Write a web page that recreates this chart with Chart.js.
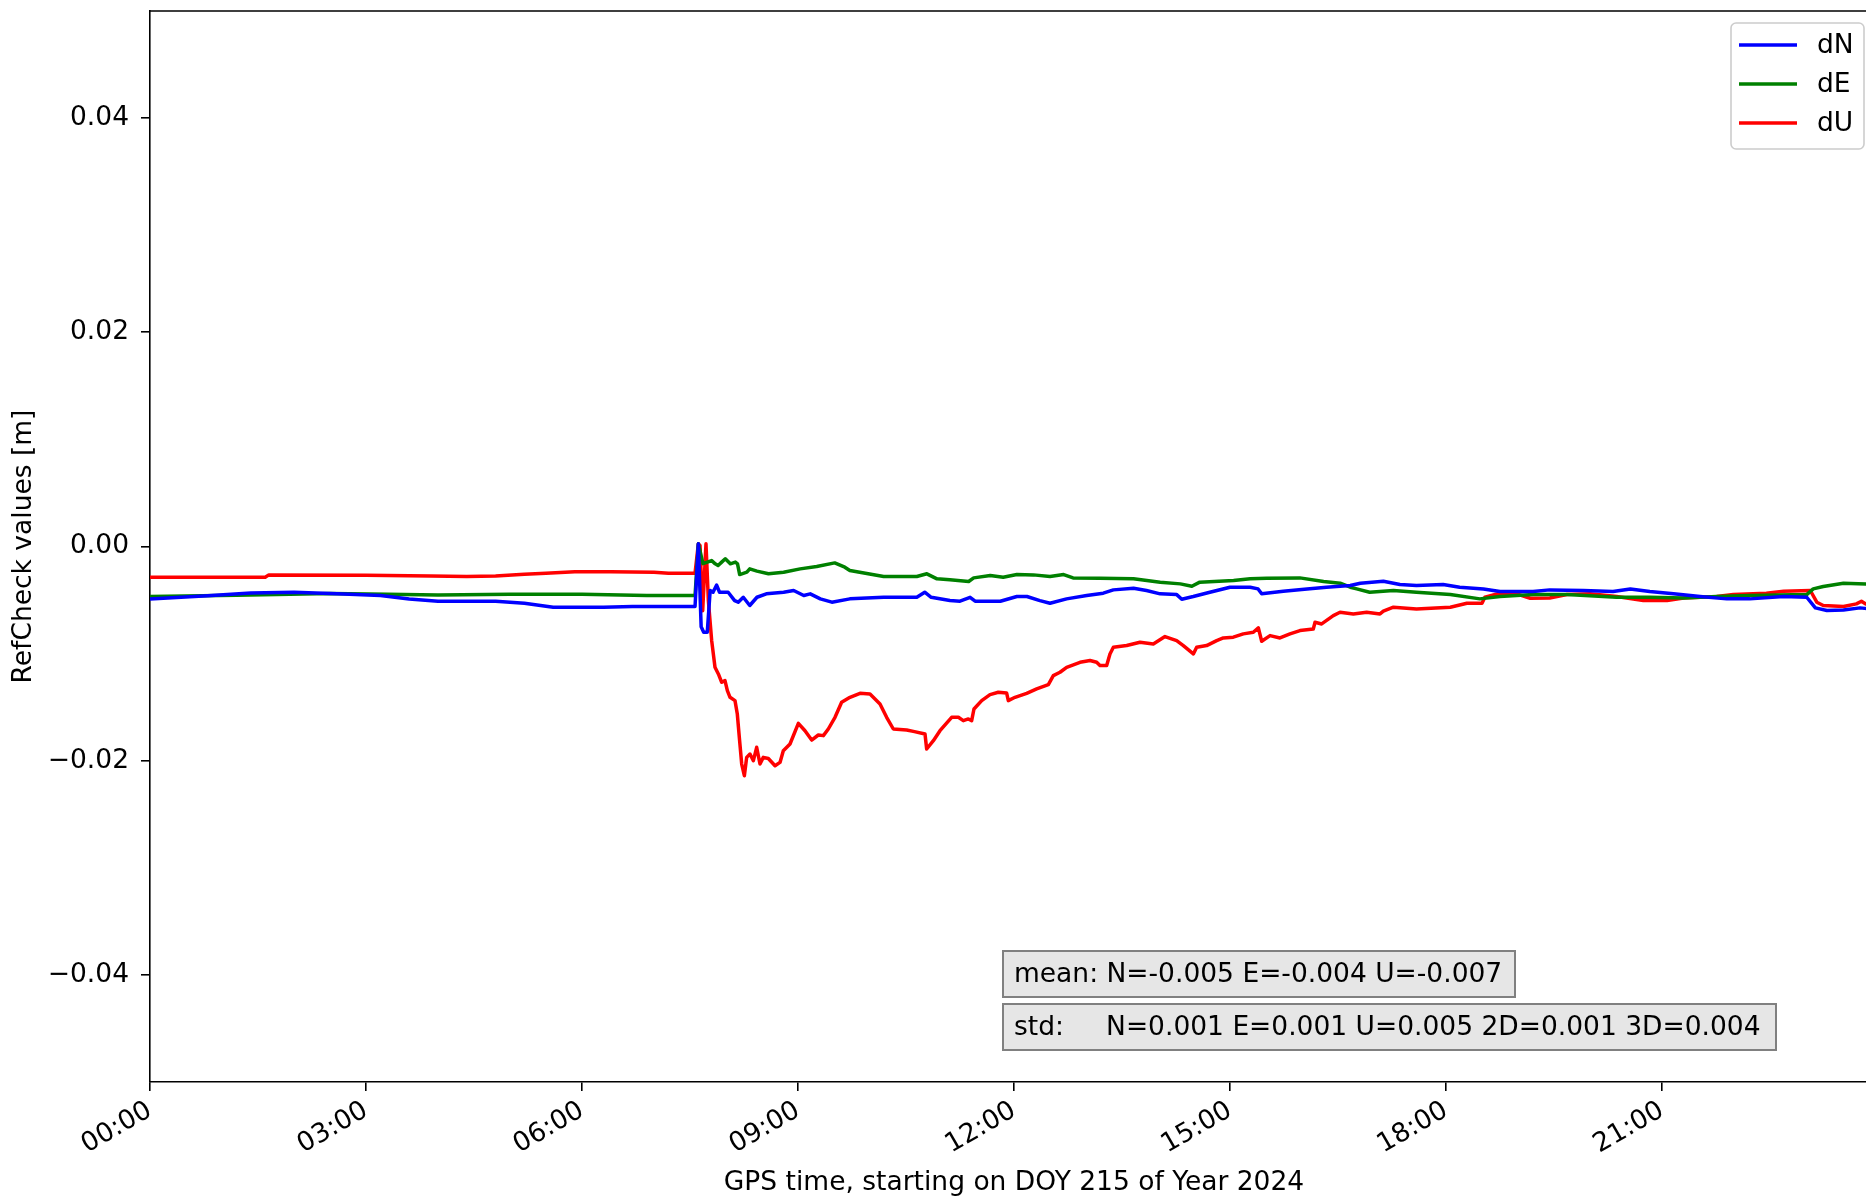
<!DOCTYPE html>
<html>
<head>
<meta charset="utf-8">
<script src="https://cdn.jsdelivr.net/npm/chart.js@4.4.0/dist/chart.umd.min.js"></script>
<style>
  html, body { margin: 0; padding: 0; background: #fff; overflow: hidden; }
  canvas { display: block; }
</style>
</head>
<body>
<canvas id="mycanvas" width="1880" height="1201"></canvas>
<script>
// hours since 00:00 GPS time, values in metres
var dNTimes = [0, 0.8, 1.4, 2.0, 2.6, 3.2, 3.6, 4.0, 4.8, 5.2, 5.6, 6.3, 6.7, 7.57,
  7.616, 7.655, 7.69, 7.74, 7.78, 7.82, 7.87, 7.91, 7.96, 8.03, 8.12, 8.17, 8.24, 8.33, 8.43, 8.56, 8.80, 8.94,
  9.08, 9.17, 9.31, 9.47, 9.72, 10.19, 10.65, 10.76, 10.85, 11.11, 11.25, 11.39, 11.46, 11.81, 12.04,
  12.18, 12.36, 12.5, 12.73, 13.01, 13.24, 13.38, 13.66, 13.84, 14.03, 14.26, 14.33, 14.49, 14.72, 15.0,
  15.28, 15.39, 15.44, 15.74, 16.07, 16.34, 16.67, 16.81, 17.13, 17.36, 17.59, 17.96, 18.19, 18.52, 18.75,
  19.21, 19.44, 19.91, 20.32, 20.56, 20.83, 21.16, 21.53, 21.90, 22.22, 22.69, 23.01, 23.13, 23.29, 23.52,
  23.75, 24.0];
var dNValues = [-0.0049, -0.0046, -0.00435, -0.00427, -0.00442, -0.00458, -0.0049, -0.00511, -0.00511, -0.0053, -0.00567, -0.00567, -0.00561, -0.0056,
  0.00025, -0.0075, -0.0080, -0.0080, -0.00411, -0.00427, -0.0036, -0.00427, -0.00427, -0.00427, -0.00505, -0.0052, -0.00474, -0.00551, -0.00474, -0.00442, -0.00427, -0.00411,
  -0.00458, -0.00442, -0.00489, -0.0052, -0.00489, -0.00474, -0.00474, -0.00427, -0.00474, -0.00505, -0.00511, -0.00474, -0.00511, -0.00511, -0.00467,
  -0.00467, -0.00505, -0.0053, -0.00489, -0.00458, -0.00436, -0.00405, -0.0039, -0.00411, -0.00442, -0.00449, -0.00492, -0.00467, -0.00427, -0.0038,
  -0.0038, -0.00396, -0.00442, -0.00418, -0.00396, -0.0038, -0.00364, -0.00343, -0.00324, -0.00355, -0.00364, -0.00355, -0.0038, -0.00396, -0.00421,
  -0.00421, -0.00405, -0.00411, -0.00421, -0.00396, -0.00421, -0.00442, -0.00467, -0.00489, -0.00489, -0.00467, -0.00474, -0.00573, -0.00598, -0.00592,
  -0.00573, -0.0059];

var dETimes = [0, 1.2, 2.5, 3.3, 4.0, 5.0, 6.0, 6.9, 7.57,
  7.616, 7.68, 7.80, 7.85, 7.89, 7.94, 7.99, 8.06, 8.13, 8.16, 8.19, 8.29, 8.33, 8.43, 8.59, 8.80, 9.03,
  9.26, 9.51, 9.65, 9.72, 10.19, 10.65, 10.79, 10.93, 11.11, 11.37, 11.44, 11.67, 11.85, 12.04, 12.27,
  12.5, 12.69, 12.82, 13.19, 13.66, 14.03, 14.31, 14.47, 14.58, 15.05, 15.28, 15.51, 15.97, 16.30, 16.53,
  16.67, 16.76, 16.94, 17.27, 17.59, 18.06, 18.47, 18.75, 19.21, 19.68, 20.37, 20.83, 21.30, 21.76, 22.22,
  23.01, 23.10, 23.24, 23.52, 23.83, 24.0];
var dEValues = [-0.00467, -0.00455, -0.0044, -0.00445, -0.00452, -0.00447, -0.00447, -0.00458, -0.00458,
  0.00025, -0.0016, -0.00131, -0.00162, -0.00178, -0.00146, -0.00115, -0.00162, -0.00146, -0.00162, -0.00262, -0.0024, -0.00209, -0.0023, -0.00255, -0.0024, -0.00209,
  -0.00187, -0.00153, -0.00193, -0.00224, -0.0028, -0.0028, -0.00255, -0.00302, -0.00311, -0.00327, -0.00293, -0.00271, -0.00287, -0.00262, -0.00265,
  -0.0028, -0.00262, -0.00293, -0.00296, -0.00302, -0.00333, -0.00349, -0.00371, -0.00333, -0.00318, -0.00302, -0.00296, -0.00293, -0.00327, -0.00343,
  -0.0038, -0.00396, -0.00427, -0.00411, -0.00427, -0.00449, -0.00489, -0.00467, -0.00449, -0.00449, -0.00474, -0.00474, -0.0048, -0.00467, -0.00458,
  -0.00449, -0.00396, -0.00374, -0.00343, -0.00349, -0.00349];

var dUTimes = [0, 1.6, 1.65, 3.0, 3.9, 4.4, 4.8, 5.2, 5.5, 5.9, 6.4, 7.0, 7.2, 7.57,
  7.616, 7.639, 7.676, 7.722, 7.755, 7.801, 7.847, 7.894, 7.940, 7.986, 8.019, 8.056, 8.125, 8.157, 8.185,
  8.218, 8.255, 8.287, 8.333, 8.380, 8.426, 8.472, 8.518, 8.588, 8.681, 8.75, 8.796, 8.889, 9.005, 9.097,
  9.190, 9.282, 9.352, 9.421, 9.514, 9.606, 9.722, 9.861, 10.0, 10.139, 10.231, 10.324, 10.509, 10.602,
  10.764, 10.787, 10.880, 10.972, 11.134, 11.227, 11.296, 11.366, 11.412, 11.444, 11.551, 11.667, 11.782,
  11.898, 11.921, 12.014, 12.176, 12.315, 12.477, 12.546, 12.639, 12.731, 12.917, 13.056, 13.148, 13.194,
  13.287, 13.333, 13.380, 13.565, 13.750, 13.935, 14.097, 14.259, 14.352, 14.491, 14.537, 14.676, 14.815,
  14.907, 15.046, 15.185, 15.324, 15.394, 15.440, 15.556, 15.694, 15.833, 15.972, 16.157, 16.181, 16.273,
  16.435, 16.528, 16.713, 16.898, 17.083, 17.13, 17.27, 17.59, 18.06, 18.29, 18.50, 18.54, 18.75, 18.98,
  19.17, 19.44, 19.68, 20.0, 20.37, 20.74, 21.07, 21.30, 21.76, 21.99, 22.45, 22.69, 23.06, 23.15, 23.24,
  23.52, 23.70, 23.77, 23.83, 24.0];
var dUValues = [-0.00287, -0.00287, -0.00265, -0.00268, -0.00275, -0.0028, -0.00275, -0.00258, -0.0025, -0.00236, -0.00236, -0.0024, -0.0025, -0.0025,
  0.00025, 0.0001, -0.0060, 0.00025, -0.00505, -0.00879, -0.01128, -0.0119, -0.01268, -0.01252, -0.01346, -0.01408, -0.01439, -0.01564, -0.01782,
  -0.02031, -0.0214, -0.01969, -0.01938, -0.0200, -0.01875, -0.02031, -0.01969, -0.0198, -0.02047, -0.02016, -0.01907, -0.01844, -0.01651, -0.0172,
  -0.01807, -0.0176, -0.01766, -0.01704, -0.01595, -0.01455, -0.01408, -0.01371, -0.01377, -0.0147, -0.01595, -0.01704, -0.01713, -0.01726,
  -0.01751, -0.01891, -0.01813, -0.0172, -0.01595, -0.01595, -0.01626, -0.0161, -0.01626, -0.01517, -0.01439, -0.01383, -0.01361,
  -0.01368, -0.01439, -0.01408, -0.01371, -0.0133, -0.0129, -0.01206, -0.01174, -0.01128, -0.01081, -0.01065, -0.01081, -0.01112,
  -0.01112, -0.01003, -0.00941, -0.00925, -0.00894, -0.0091, -0.00841, -0.00879, -0.00925, -0.01003, -0.00941, -0.00925, -0.00879,
  -0.00854, -0.00847, -0.00816, -0.00801, -0.0076, -0.00885, -0.00832, -0.00854, -0.00816, -0.00785, -0.0077, -0.00707, -0.00723,
  -0.00645, -0.00614, -0.0063, -0.00614, -0.0063, -0.00604, -0.00567, -0.00583, -0.00567, -0.0053, -0.0053, -0.00474, -0.00436, -0.00442,
  -0.00483, -0.0048, -0.00449, -0.00442, -0.00467, -0.00505, -0.00505, -0.0048, -0.00467, -0.00449, -0.00436, -0.00417, -0.00411, -0.0052, -0.00551,
  -0.00561, -0.00536, -0.00511, -0.00536, -0.0054];

var seriesNames = ['dN', 'dE', 'dU'];
var seriesColors = ['#0000ff', '#008000', '#ff0000'];
var xTickHours = [0, 3, 6, 9, 12, 15, 18, 21];
var yTickValues = [-0.04, -0.02, 0.00, 0.02, 0.04];
var meanValues = ['N=-0.005', 'E=-0.004', 'U=-0.007'];
var stdValues = ['N=0.001', 'E=0.001', 'U=0.005', '2D=0.001', '3D=0.004'];

var FONT = 'DejaVu Sans';
var FSIZE = 26.5;

function pts(t, v) {
  var out = [];
  for (var i = 0; i < t.length; i++) out.push({x: t[i], y: v[i]});
  return out;
}

function hhmm(h) {
  return (h < 10 ? '0' : '') + h + ':00';
}

// frame, legend and the two stats boxes
var extras = {
  id: 'extras',
  afterDraw: function(chart) {
    var c = chart.ctx, a = chart.chartArea;
    c.save();
    c.strokeStyle = '#000';
    c.lineWidth = 1.6;
    c.beginPath();
    c.moveTo(a.left, a.top); c.lineTo(a.right, a.top); c.lineTo(a.right, a.bottom);
    c.stroke();

    // legend
    var lx = a.right - 147, ly = a.top + 12, lw = 133, lh = 126;
    c.fillStyle = 'rgba(255,255,255,0.8)';
    c.strokeStyle = '#cccccc';
    c.lineWidth = 1.6;
    c.beginPath();
    c.roundRect(lx, ly, lw, lh, 5);
    c.fill(); c.stroke();
    c.font = FSIZE + 'px "' + FONT + '"';
    c.textBaseline = 'middle';
    c.textAlign = 'left';
    for (var i = 0; i < seriesNames.length; i++) {
      var yy = ly + 22 + i * 39;
      c.strokeStyle = seriesColors[i];
      c.lineWidth = 3.5;
      c.beginPath(); c.moveTo(lx + 8, yy); c.lineTo(lx + 66, yy); c.stroke();
      c.fillStyle = '#000';
      c.fillText(seriesNames[i], lx + 86, yy + 1);
    }

    // stats boxes
    var boxes = [
      {text: 'mean: ' + meanValues.join(' '), y: 951, w: 512},
      {text: 'std:     ' + stdValues.join(' '), y: 1004, w: 773}
    ];
    boxes.forEach(function(b) {
      c.fillStyle = '#e6e6e6';
      c.strokeStyle = '#808080';
      c.lineWidth = 2;
      c.fillRect(1003, b.y, b.w, 46);
      c.strokeRect(1003, b.y, b.w, 46);
      c.fillStyle = '#000';
      c.fillText(b.text, 1014, b.y + 24);
    });
    c.restore();
  }
};

var ctx = document.getElementById('mycanvas');

var chart = new Chart(ctx, {
  type: 'line',
  data: {
    datasets: [
      {label: seriesNames[0], data: pts(dNTimes, dNValues), borderColor: seriesColors[0]},
      {label: seriesNames[1], data: pts(dETimes, dEValues), borderColor: seriesColors[1]},
      {label: seriesNames[2], data: pts(dUTimes, dUValues), borderColor: seriesColors[2]}
    ]
  },
  options: {
    responsive: false,
    animation: false,
    layout: {padding: {top: 11, left: 0, right: 2, bottom: 0}},
    elements: {
      line: {borderWidth: 3.5, tension: 0, borderJoinStyle: 'round', borderCapStyle: 'round'},
      point: {radius: 0}
    },
    plugins: {legend: {display: false}, tooltip: {enabled: false}},
    scales: {
      x: {
        type: 'linear',
        min: 0,
        max: 24,
        afterBuildTicks: function(s) { s.ticks = xTickHours.map(function(v) { return {value: v}; }); },
        afterFit: function(s) { s.height = 119; s.paddingLeft = 0; s.paddingRight = 0; },
        border: {display: true, color: '#000', width: 1.6},
        grid: {drawOnChartArea: false, drawTicks: true, tickLength: 9, color: '#000', lineWidth: 1.6},
        ticks: {
          autoSkip: false,
          minRotation: 30,
          maxRotation: 30,
          padding: 4,
          color: '#000',
          font: {family: FONT, size: FSIZE},
          callback: function(v) { return hhmm(v); }
        },
        title: {
          display: true,
          text: 'GPS time, starting on DOY 215 of Year 2024',
          color: '#000',
          font: {family: FONT, size: FSIZE},
          padding: {top: 0, bottom: 2}
        }
      },
      y: {
        min: -0.05,
        max: 0.05,
        afterBuildTicks: function(s) { s.ticks = yTickValues.map(function(v) { return {value: v}; }); },
        afterFit: function(s) { s.width = 150; s.paddingTop = 0; s.paddingBottom = 0; },
        border: {display: true, color: '#000', width: 1.6},
        grid: {drawOnChartArea: false, drawTicks: true, tickLength: 9, color: '#000', lineWidth: 1.6},
        ticks: {
          padding: 12,
          color: '#000',
          font: {family: FONT, size: FSIZE},
          callback: function(v) { return v.toFixed(2).replace('-', '\u2212'); }
        },
        title: {
          display: true,
          text: 'RefCheck values [m]',
          color: '#000',
          font: {family: FONT, size: FSIZE},
          padding: {top: 8, bottom: 0}
        }
      }
    }
  },
  plugins: [extras]
});
</script>
</body>
</html>
